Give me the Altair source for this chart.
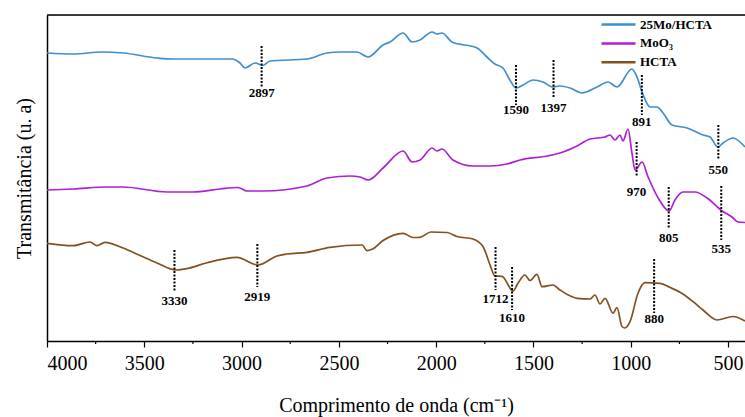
import altair as alt
import pandas as pd

# ---- data (wavenumber in cm-1, transmittance in arbitrary units) ----
names = ["25Mo/HCTA", "MoO₃", "HCTA"]
colors = ["#3f8fcf", "#b01fd6", "#83501f"]

wn_blue = [4000,3866,3717,3609,3435,3352,3178,3049,3008,2982,2931,2890,2854,2664,2561,2494,2407,2350,2273,2237,
           2170,2124,2083,2021,1996,1970,1919,1790,1739,1698,1657,1621,1590,1554,1502,1451,1400,1364,1312,1251,
           1174,1117,1071,994,968,942,901,865,834,788,711,629,593,552,526,475,413]
t_blue = [285,284,286,285,280,279,279,279,275,270,275,272.5,277,279,285,286,286,281,293,296,
          305,296,298,306,304,305,296,290,281,274,270,258,250,253,258,256,251,252,250,245,
          251,256,251,269,261,246,231,231,225,213,210,203,201,191,195,200,191]

wn_purple = [4000,3866,3692,3609,3383,3250,3111,3018,2972,2890,2664,2561,2443,2391,2350,2273,2170,2124,2083,2021,
             1996,1970,1914,1811,1723,1636,1569,1430,1364,1276,1209,1132,1107,1081,1055,1040,1014,994,978,942,
             911,850,803,773,732,670,608,531,480,449,413]
t_purple = [148,149,151,151,146,146,149,150.5,147,147,152,160,162,161,158,170,187,176,178,190,
            187,189,178,172,172,174,178,182,185,192,199,201,203,198,203,197,209,185,168,176,
            161,137,127,138,146,146,140,127,121,116,115.5]

wn_brown = [4000,3866,3779,3743,3702,3609,3522,3435,3337,3281,3178,3024,2916,2818,2767,2664,2546,2381,2355,2330,
            2273,2170,2119,2083,2027,1944,1893,1811,1759,1723,1698,1662,1605,1580,1544,1518,1482,1456,1400,1364,
            1276,1209,1184,1158,1132,1091,1071,1045,1030,1004,963,927,850,798,732,680,629,557,475,413]
t_brown = [94.7,92.3,96,92.3,95.7,90,82.5,75,68,69.3,75.3,80.7,73,82,84,85.7,90.7,93,87.3,88.7,
           97.5,104.7,100.5,100.7,106,105.5,101.5,99,91.3,73,62,61.7,47,54.7,63,57.5,63.7,51.3,53,48,
           39.7,39,43,34,39.7,24.7,30.5,11.5,10,16.3,44.7,55.3,54.7,50.5,44,36.3,28,18,21.5,17]

# peak markers
m_wn = [2897, 1590, 1397, 943, 550, 970, 805, 535, 3345, 2919, 1695, 1610, 880]
m_top = [292, 273, 278, 263, 213, 196, 151, 152, 88, 94, 91, 71, 79]
m_bot = [251, 233, 241, 223, 178, 162, 110, 98, 46, 51, 48, 28, 25]
m_lab_y = [245, 228, 230, 216, 168, 146, 100, 89, 37, 41, 39, 20, 19]
m_text = ["2897", "1590", "1397", "891", "550", "970", "805", "535", "3330", "2919", "1712", "1610", "880"]

major_ticks = [4000, 3500, 3000, 2500, 2000, 1500, 1000, 500]
minor_ticks = [3750, 3250, 2750, 2250, 1750, 1250, 750]

# ---- build tables ----
rows = []
for name, xs, ys in zip(names, [wn_blue, wn_purple, wn_brown], [t_blue, t_purple, t_brown]):
    for x, y in zip(xs, ys):
        rows.append({"wn": x, "t": y, "amostra": name})
df = pd.DataFrame(rows)
dm = pd.DataFrame({"wn": m_wn, "top": m_top, "bot": m_bot, "ly": m_lab_y, "lab": m_text})
dminor = pd.DataFrame({"wn": minor_ticks})

W, H = 698, 326
FONT = "Liberation Serif"
xscale = alt.Scale(domain=[413, 4000], reverse=True, nice=False, zero=False)
yscale = alt.Scale(domain=[-3, 323], nice=False, zero=False)

lines = alt.Chart(df).mark_line(strokeWidth=1.7, interpolate="monotone").encode(
    x=alt.X("wn:Q", scale=xscale,
            axis=alt.Axis(values=major_ticks, format="d", title="Comprimento de onda (cm⁻¹)",
                          labelFont=FONT, labelFontSize=20, labelColor="black", labelPadding=6,
                          tickSize=6, tickColor="black", tickWidth=1.2,
                          domainColor="black", domainWidth=1.5, grid=False,
                          titleFont=FONT, titleFontSize=20, titleFontWeight="normal",
                          titleColor="black", titlePadding=22)),
    y=alt.Y("t:Q", scale=yscale,
            axis=alt.Axis(title="Transmitância (u. a)", labels=False, ticks=False, grid=False,
                          domainColor="black", domainWidth=1.5,
                          titleFont=FONT, titleFontSize=20, titleFontWeight="normal",
                          titleColor="black", titlePadding=13)),
    color=alt.Color("amostra:N", scale=alt.Scale(domain=names, range=colors),
                    legend=alt.Legend(title=None, orient="none", legendX=563, legendY=1,
                                      symbolType="M-2.5,0H2.5", symbolSize=185, symbolStrokeWidth=2.5,
                                      symbolFillColor="transparent",
                                      labelFont=FONT, labelFontWeight="bold", labelFontSize=13,
                                      labelColor="black", rowPadding=2.9, padding=0, labelOffset=13)),
    detail="amostra:N",
)

markers = alt.Chart(dm).mark_rule(color="black", strokeWidth=2, strokeDash=[2, 1.5]).encode(
    x=alt.X("wn:Q", scale=xscale), y=alt.Y("top:Q", scale=yscale), y2="bot:Q")

labels = alt.Chart(dm).mark_text(font=FONT, fontWeight="bold", fontSize=13, color="black",
                                 baseline="middle", align="center").encode(
    x=alt.X("wn:Q", scale=xscale), y=alt.Y("ly:Q", scale=yscale), text="lab:N")

minor = alt.Chart(dminor).mark_rule(color="black", strokeWidth=1.2).encode(
    x=alt.X("wn:Q", scale=xscale), y=alt.value(H), y2=alt.value(H + 3))

top_border = alt.Chart(pd.DataFrame({"a": [0]})).mark_rule(color="black", strokeWidth=1.5).encode(
    x=alt.value(0), x2=alt.value(W), y=alt.value(0))

chart = alt.layer(lines, markers, labels, minor, top_border).properties(
    width=W, height=H,
    autosize=alt.AutoSizeParams(type="none"),
    padding={"left": 47, "top": 15, "right": 0, "bottom": 76},
).configure_view(stroke=None).configure(background="white")

chart.save("out.html", embed_options={"renderer": "svg", "actions": False})
